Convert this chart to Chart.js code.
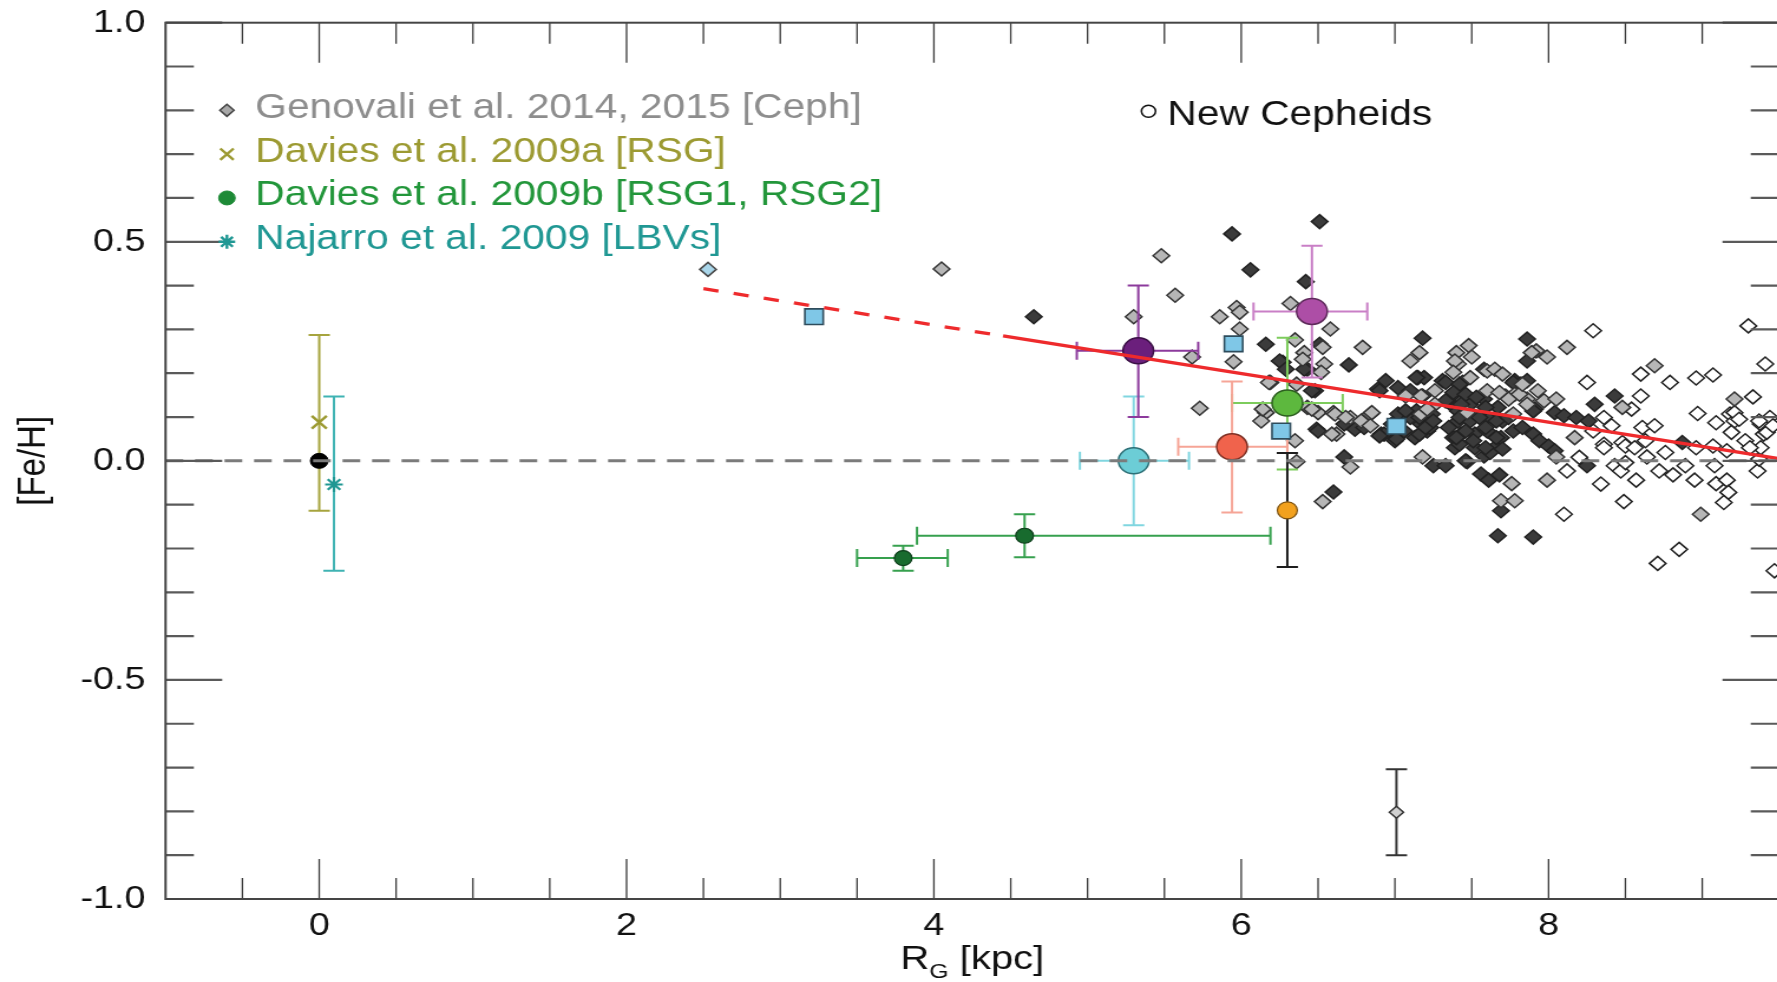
<!DOCTYPE html>
<html><head><meta charset="utf-8">
<script src="https://cdn.jsdelivr.net/npm/chart.js@4.4.1/dist/chart.umd.min.js"></script>
<style>
html,body{margin:0;padding:0;overflow:hidden;background:#fff;width:1777px;height:982px}
#wrap{position:absolute;left:0;top:0;width:1522.2px;height:982px;transform:scaleX(1.18);transform-origin:0 0}
</style></head><body>
<div id="wrap"><canvas id="c"></canvas></div>
<script>
const FONT = "'Liberation Sans', Arial, Helvetica, sans-serif";

// ---- tick values ----
const xTickLabels = [0, 2, 4, 6, 8];
const yTickLabels = [-1.0, -0.5, 0.0, 0.5, 1.0];
const xMinorTicks = [-0.5, 0.5, 1, 1.5, 2.5, 3, 3.5, 4.5, 5, 5.5, 6.5, 7, 7.5, 8.5, 9];
const yMinorTicks = [-0.9, -0.8, -0.7, -0.6, -0.4, -0.3, -0.2, -0.1, 0.1, 0.2, 0.3, 0.4, 0.6, 0.7, 0.8, 0.9];

// ---- Genovali Cepheids [RG kpc, Fe/H] ----
const cephDark = [[4.65,0.329],[5.94,0.518],[6.51,0.546],[6.06,0.436],[6.42,0.409],[6.16,0.266],[6.51,0.266],[7.18,0.280],[6.27,0.225],[6.43,0.209],[6.70,0.219],[6.48,0.160],[7.86,0.278],[7.86,0.228],[8.43,0.148],[8.30,0.129],[8.87,0.042],[6.94,0.183],[6.89,0.164],[7.02,0.167],[7.10,0.160],[7.15,0.190],[7.19,0.190],[7.58,0.209],[7.78,0.183],[7.82,0.175],[7.91,0.118],[8.04,0.110],[8.10,0.103],[8.18,0.099],[7.36,0.145],[7.43,0.160],[7.39,0.122],[7.49,0.129],[7.58,0.141],[7.67,0.122],[7.41,0.091],[7.49,0.091],[7.60,0.099],[7.70,0.091],[7.43,0.061],[7.52,0.061],[7.60,0.068],[7.69,0.053],[7.65,0.030],[7.39,0.030],[7.52,0.030],[6.91,0.061],[7.02,0.107],[7.10,0.099],[7.17,0.084],[7.06,0.068],[7.21,0.068],[7.13,0.053],[7.00,0.046],[6.49,0.072],[6.67,0.084],[6.74,0.072],[6.80,0.076],[6.25,0.228],[6.29,0.209],[6.41,0.209],[6.46,0.160],[6.67,0.009],[6.60,-0.071],[7.25,-0.011],[7.33,-0.011],[7.47,-0.002],[7.58,0.011],[7.62,0.019],[7.56,-0.030],[7.61,-0.044],[7.68,-0.032],[7.69,-0.114],[7.67,-0.171],[7.90,-0.174],[8.25,-0.011],[6.93,0.061],[7.01,0.050],[7.16,0.061],[7.23,0.076],[7.38,0.053],[7.42,0.038],[7.31,0.183],[7.44,0.179],[7.18,0.148],[7.14,0.114],[7.24,0.107],[7.41,0.114],[7.46,0.000],
  [6.90,0.160],[7.33,0.179],[7.42,0.175],[7.38,0.156],[7.46,0.152],[7.33,0.137],[7.43,0.129],[7.53,0.145],[7.59,0.122],[7.55,0.099],[7.42,0.099],[7.35,0.076],[7.46,0.068],[7.59,0.076],[7.66,0.091],[7.74,0.099],[7.77,0.068],[7.66,0.053],[7.51,0.046],[7.40,0.053],[7.59,0.030],[7.70,0.027],[7.77,0.179],[7.86,0.183],[7.90,0.114],[7.83,0.076],[7.90,0.061],[6.90,0.057],[6.50,0.068],[7.16,0.099],[7.20,0.076],[7.25,0.091],[7.07,0.114],[6.98,0.084],[8.26,0.091],[7.94,0.046],[8.00,0.034],[8.04,0.023],[7.14,0.190]];
const cephGray = [[4.05,0.438],[5.48,0.468],[5.57,0.378],[5.30,0.329],[5.86,0.329],[5.97,0.350],[5.99,0.339],[6.32,0.359],[5.99,0.301],[6.58,0.301],[6.35,0.276],[6.79,0.259],[5.68,0.237],[5.95,0.226],[6.41,0.247],[6.53,0.259],[6.54,0.221],[6.52,0.202],[7.10,0.228],[7.16,0.247],[7.40,0.247],[7.41,0.221],[6.19,0.179],[7.48,0.263],[7.50,0.237],[7.39,0.228],[7.92,0.251],[7.99,0.237],[8.12,0.259],[8.69,0.217],[9.21,0.141],[8.48,0.122],[8.17,0.053],[7.07,0.148],[7.17,0.148],[7.26,0.160],[7.26,0.129],[7.60,0.205],[7.65,0.209],[7.70,0.198],[7.60,0.160],[7.72,0.148],[7.93,0.160],[7.97,0.137],[8.05,0.141],[7.17,0.107],[7.78,0.152],[7.86,0.141],[7.47,0.110],[6.16,0.110],[6.13,0.091],[6.43,0.122],[6.50,0.110],[6.60,0.110],[6.35,0.046],[6.62,0.061],[6.71,0.099],[6.78,0.091],[6.84,0.107],[6.18,0.179],[6.36,0.175],[6.40,0.232],[6.36,-0.002],[6.71,-0.014],[6.53,-0.093],[7.18,0.009],[7.76,-0.052],[7.69,-0.091],[7.78,-0.091],[7.99,-0.044],[8.05,0.009],[8.99,-0.122],[5.73,0.120],[6.14,0.118],[6.85,0.110],[6.84,0.080],
  [7.38,0.202],[7.49,0.190],[7.68,0.156],[7.74,0.141],[7.81,0.152],[7.86,0.129],[7.77,0.107],[6.46,0.118],[6.61,0.107],[6.68,0.099],[6.59,0.061],[7.21,0.118],[7.83,0.175],[7.89,0.247]];
const cephOpen = [[8.29,0.297],[9.30,0.308],[9.41,0.221],[8.60,0.198],[8.25,0.179],[8.79,0.179],[8.96,0.189],[9.07,0.196],[8.60,0.148],[9.33,0.146],[8.54,0.118],[8.97,0.108],[9.09,0.087],[9.18,0.107],[9.21,0.091],[9.38,0.084],[9.44,0.099],[8.36,0.099],[8.41,0.080],[8.61,0.076],[8.69,0.080],[9.19,0.065],[9.28,0.046],[9.40,0.061],[8.36,0.038],[8.48,0.042],[8.63,0.046],[8.10,-0.122],[8.12,-0.023],[8.20,0.008],[8.34,-0.053],[8.43,-0.011],[8.47,-0.023],[8.50,-0.004],[8.49,-0.093],[8.57,-0.044],[8.64,0.009],[8.72,-0.023],[8.81,-0.032],[8.89,-0.011],[8.95,-0.044],[9.08,-0.011],[9.09,-0.052],[9.16,-0.044],[9.17,-0.072],[9.14,-0.095],[8.85,-0.202],[8.71,-0.234],[9.36,-0.023],[9.37,0.004],[9.47,-0.251],[9.42,0.065],[9.38,0.030],
  [9.21,0.110],[9.24,0.095],[9.37,0.091],[9.46,0.080],[8.29,0.068],[8.36,0.030],[8.50,0.034],[8.56,0.030],[8.76,0.019],[8.96,0.030],[9.07,0.034],[9.16,0.023],[9.31,0.030]];

// ---- points with error bars: [x, y, xLow, xHigh, yLow, yHigh] ----
const sunPoint = [[0.00, 0.000, null, null, null, null]];
const daviesA = [[0.00, 0.088, null, null, -0.114, 0.287]];
const najarro = [[0.096, -0.054, null, null, -0.251, 0.147]];
const daviesB = [[3.80, -0.222, 3.50, 4.09, -0.251, -0.194], [4.59, -0.171, 3.89, 6.19, -0.220, -0.122]];
const clusterCyan = [[5.30, 0.000, 4.95, 5.66, -0.147, 0.147]];
const clusterPurple = [[5.33, 0.251, 4.93, 5.72, 0.100, 0.400]];
const clusterMagenta = [[6.46, 0.341, 6.08, 6.82, 0.190, 0.491]];
const clusterGreen = [[6.30, 0.132, 5.94, 6.66, -0.020, 0.281]];
const clusterSalmon = [[5.94, 0.032, 5.59, 6.30, -0.118, 0.181]];
const clusterOrange = [[6.30, -0.113, null, null, -0.242, 0.018]];
const outlierCeph = [[7.01, -0.802, null, null, -0.900, -0.704]];
const blueSquares = [[3.22, 0.329], [5.95, 0.267], [6.26, 0.068], [7.01, 0.079]];
const blueDiamond = [[2.53, 0.437]];

// ---- lines ----
const fitDashed = [[2.50, 0.393], [4.45, 0.285]];
const fitSolid = [[4.45, 0.285], [9.50, 0.005]];
const zeroLine = [[-1.0, 0.0], [9.5, 0.0]];

// ---- legend ----
const legendLabels = ['Genovali et al. 2014, 2015 [Ceph]', 'Davies et al. 2009a [RSG]', 'Davies et al. 2009b [RSG1, RSG2]', 'Najarro et al. 2009 [LBVs]'];
const legendColors = ['#8d8d8d', '#9c9a32', '#22963a', '#1f9793'];
const newCephLabel = 'New Cepheids';

const pts = a => a.map(p => ({x: p[0], y: p[1]}));

const errorGroups = [
  {rows: daviesA, color: '#a6a43e'},
  {rows: najarro, color: '#3fb3b3'},
  {rows: daviesB, color: '#36a04e'},
  {rows: clusterCyan, color: '#80d6e0'},
  {rows: clusterPurple, color: '#8c3a9c'},
  {rows: clusterMagenta, color: '#c97fc6'},
  {rows: clusterGreen, color: '#7dcc5c'},
  {rows: clusterSalmon, color: '#f6a597'},
  {rows: clusterOrange, color: '#1e1e1e'},
  {rows: outlierCeph, color: '#333333'}
];

function drawErr(ctx, xs, ys, rows, color) {
  const cap = 9;
  ctx.save();
  ctx.strokeStyle = color; ctx.lineWidth = 2;
  rows.forEach(r => {
    const [x, y, xl, xh, yl, yh] = r;
    const px = xs.getPixelForValue(x), py = ys.getPixelForValue(y);
    ctx.beginPath();
    if (xl !== null) {
      const a = xs.getPixelForValue(xl), b = xs.getPixelForValue(xh);
      ctx.moveTo(a, py); ctx.lineTo(b, py);
      ctx.moveTo(a, py - cap); ctx.lineTo(a, py + cap);
      ctx.moveTo(b, py - cap); ctx.lineTo(b, py + cap);
    }
    if (yl !== null) {
      const a = ys.getPixelForValue(yl), b = ys.getPixelForValue(yh);
      ctx.moveTo(px, a); ctx.lineTo(px, b);
      ctx.moveTo(px - cap, a); ctx.lineTo(px + cap, a);
      ctx.moveTo(px - cap, b); ctx.lineTo(px + cap, b);
    }
    ctx.stroke();
  });
  ctx.restore();
}

const decor = {
  id: 'decor',
  afterDatasetDraw(chart, args) {
    if (chart.data.datasets[args.index].label !== 'cephGray') return;
    const xs = chart.scales.x, ys = chart.scales.y;
    errorGroups.forEach(g => drawErr(chart.ctx, xs, ys, g.rows, g.color));
  },
  afterDraw(chart) {
    const ctx = chart.ctx, xs = chart.scales.x, ys = chart.scales.y;
    const {left, right, top, bottom} = chart.chartArea;
    ctx.save();
    // x ticks (inward, top & bottom)
    ctx.strokeStyle = '#3a3a3a'; ctx.lineWidth = 1.3;
    ctx.beginPath();
    xTickLabels.forEach(v => { const p = xs.getPixelForValue(v);
      ctx.moveTo(p, bottom); ctx.lineTo(p, bottom - 40); ctx.moveTo(p, top); ctx.lineTo(p, top + 40); });
    xMinorTicks.forEach(v => { const p = xs.getPixelForValue(v);
      ctx.moveTo(p, bottom); ctx.lineTo(p, bottom - 21); ctx.moveTo(p, top); ctx.lineTo(p, top + 21); });
    ctx.stroke();
    // y ticks (inward, left & right)
    ctx.strokeStyle = '#5a5a5a'; ctx.lineWidth = 2.2;
    ctx.beginPath();
    yTickLabels.forEach(v => { const p = ys.getPixelForValue(v);
      ctx.moveTo(left, p); ctx.lineTo(left + 48, p); ctx.moveTo(right, p); ctx.lineTo(right - 48, p); });
    yMinorTicks.forEach(v => { const p = ys.getPixelForValue(v);
      ctx.moveTo(left, p); ctx.lineTo(left + 24, p); ctx.moveTo(right, p); ctx.lineTo(right - 24, p); });
    ctx.stroke();
    // frame
    ctx.strokeStyle = '#454545'; ctx.lineWidth = 2;
    ctx.strokeRect(left, top, right - left, bottom - top);

    // legend
    ctx.textBaseline = 'middle'; ctx.textAlign = 'left';
    ctx.font = `34.5px ${FONT}`;
    const mx = left + 52, tx = left + 76;
    const styles = [
      {pointStyle: 'rectRot', radius: 6, borderWidth: 1.5, fill: '#a8a8a8', stroke: '#444'},
      {pointStyle: 'crossRot', radius: 8, borderWidth: 2.4, fill: '#9c9a32', stroke: '#9c9a32'},
      {pointStyle: 'circle', radius: 7, borderWidth: 1, fill: '#1d8a36', stroke: '#1d8a36'},
      {pointStyle: 'star', radius: 7, borderWidth: 2.4, fill: '#1f9793', stroke: '#1f9793'}
    ];
    legendLabels.forEach((t, i) => {
      const py = ys.getPixelForValue(0.8 - 0.1 * i);
      const s = styles[i];
      ctx.fillStyle = s.fill; ctx.strokeStyle = s.stroke; ctx.lineWidth = s.borderWidth;
      Chart.helpers.drawPoint(ctx, {pointStyle: s.pointStyle, radius: s.radius, rotation: 0, borderWidth: s.borderWidth}, mx, py);
      ctx.fillStyle = legendColors[i];
      ctx.fillText(t, tx, py - 2);
    });
    // New Cepheids
    const ny = ys.getPixelForValue(0.8);
    const nx = left + 833;
    ctx.fillStyle = '#fff'; ctx.strokeStyle = '#111'; ctx.lineWidth = 1.5;
    Chart.helpers.drawPoint(ctx, {pointStyle: 'circle', radius: 6, rotation: 0, borderWidth: 1.5}, nx, ny + 1);
    ctx.fillStyle = '#111';
    ctx.fillText(newCephLabel, nx + 16, ny + 5);

    // x axis title with subscript
    ctx.textBaseline = 'alphabetic';
    ctx.font = `34px ${FONT}`; const wR = ctx.measureText('R').width; const wK = ctx.measureText(' [kpc]').width;
    ctx.font = `21px ${FONT}`; const wG = ctx.measureText('G').width;
    let x0 = (left + right) / 2 - (wR + wG + wK) / 2;
    const base = 969;
    ctx.fillStyle = '#111';
    ctx.font = `34px ${FONT}`; ctx.fillText('R', x0, base);
    ctx.font = `21px ${FONT}`; ctx.fillText('G', x0 + wR, base + 9);
    ctx.font = `34px ${FONT}`; ctx.fillText(' [kpc]', x0 + wR + wG, base);
    ctx.restore();
  }
};

const scatterStyle = (fill, stroke, style, r, bw) => ({pointStyle: style, pointRadius: r, backgroundColor: fill, borderColor: stroke, borderWidth: bw, showLine: false});

new Chart(document.getElementById('c'), {
  type: 'scatter',
  data: {
    datasets: [
      {label: 'zeroLine', data: pts(zeroLine), showLine: true, borderColor: '#7b7b7b', borderWidth: 3, borderDash: [15, 10], pointRadius: 0, order: 1},
      {label: 'fitSolid', data: pts(fitSolid), showLine: true, borderColor: '#ee2a2c', borderWidth: 3.3, pointRadius: 0, order: 2},
      {label: 'fitDashed', data: pts(fitDashed), showLine: true, borderColor: '#ee2a2c', borderWidth: 3.3, borderDash: [13, 13], pointRadius: 0, order: 3},
      Object.assign({label: 'sun', data: pts(sunPoint), order: 4}, scatterStyle('#000', '#000', 'circle', 7.5, 1)),
      Object.assign({label: 'daviesA', data: pts(daviesA), order: 5}, scatterStyle('#9c9a32', '#9c9a32', 'crossRot', 9, 2.4)),
      Object.assign({label: 'najarro', data: pts(najarro), order: 6}, scatterStyle('#1f9793', '#1f9793', 'star', 7.5, 2.2)),
      Object.assign({label: 'daviesB', data: pts(daviesB), order: 7}, scatterStyle('#186b2e', '#0f3f1c', 'circle', 7.5, 1.2)),
      Object.assign({label: 'cyan', data: pts(clusterCyan), order: 8}, scatterStyle('#6ccdd6', '#2d6f76', 'circle', 13, 1.5)),
      Object.assign({label: 'purple', data: pts(clusterPurple), order: 9}, scatterStyle('#6b1f7c', '#3a0f45', 'circle', 13, 1.5)),
      Object.assign({label: 'magenta', data: pts(clusterMagenta), order: 10}, scatterStyle('#ad4ea6', '#5e2a5b', 'circle', 13, 1.5)),
      Object.assign({label: 'green', data: pts(clusterGreen), order: 11}, scatterStyle('#5db83e', '#2c5e1f', 'circle', 13, 1.5)),
      Object.assign({label: 'salmon', data: pts(clusterSalmon), order: 12}, scatterStyle('#f0634c', '#7e3024', 'circle', 13, 1.5)),
      Object.assign({label: 'orange', data: pts(clusterOrange), order: 13}, scatterStyle('#f2a11e', '#7a5010', 'circle', 8.5, 1.2)),
      Object.assign({label: 'outlier', data: pts(outlierCeph), order: 14}, scatterStyle('#d0d0d0', '#333', 'rectRot', 6, 1.5)),
      Object.assign({label: 'blueSquares', data: pts(blueSquares), order: 15}, scatterStyle('#7fc7e7', '#2e4c5c', 'rect', 11, 1.6)),
      Object.assign({label: 'blueDiamond', data: pts(blueDiamond), order: 16}, scatterStyle('#a9d6ea', '#4a4a4a', 'rectRot', 7, 1.5)),
      Object.assign({label: 'cephGray', data: pts(cephGray), order: 17}, scatterStyle('#b6b6b6', '#333', 'rectRot', 7, 1.5)),
      Object.assign({label: 'cephDark', data: pts(cephDark), order: 18}, scatterStyle('#3b3b3b', '#222', 'rectRot', 7, 1.5)),
      Object.assign({label: 'cephOpen', data: pts(cephOpen), order: 19}, scatterStyle('#ffffff', '#222', 'rectRot', 7, 1.5))
    ]
  },
  options: {
    responsive: true, maintainAspectRatio: false, animation: false, events: [],
    layout: {padding: {top: 22.7, right: 2.4, left: 0, bottom: 0}},
    plugins: {legend: {display: false}, tooltip: {enabled: false}},
    scales: {
      x: {
        type: 'linear', min: -1, max: 9.5, position: 'bottom',
        afterBuildTicks: s => { s.ticks = xTickLabels.map(v => ({value: v})); },
        afterFit: s => { s.height = 83; },
        grid: {display: false, drawTicks: false}, border: {display: false},
        ticks: {color: '#111', font: {family: FONT, size: 32}, padding: 8, maxRotation: 0, callback: v => String(v)}
      },
      y: {
        type: 'linear', min: -1, max: 1, position: 'left',
        afterBuildTicks: s => { s.ticks = yTickLabels.map(v => ({value: v})); },
        afterFit: s => { s.width = 140.3; s.paddingTop = 0; s.paddingBottom = 0; },
        grid: {display: false, drawTicks: false}, border: {display: false},
        ticks: {color: '#111', font: {family: FONT, size: 32}, padding: 17, callback: v => Number(v).toFixed(1)},
        title: {display: true, text: '[Fe/H]', color: '#111', font: {family: FONT, size: 33}, padding: {top: 9, bottom: 0}}
      }
    }
  },
  plugins: [decor]
});
</script></body></html>
